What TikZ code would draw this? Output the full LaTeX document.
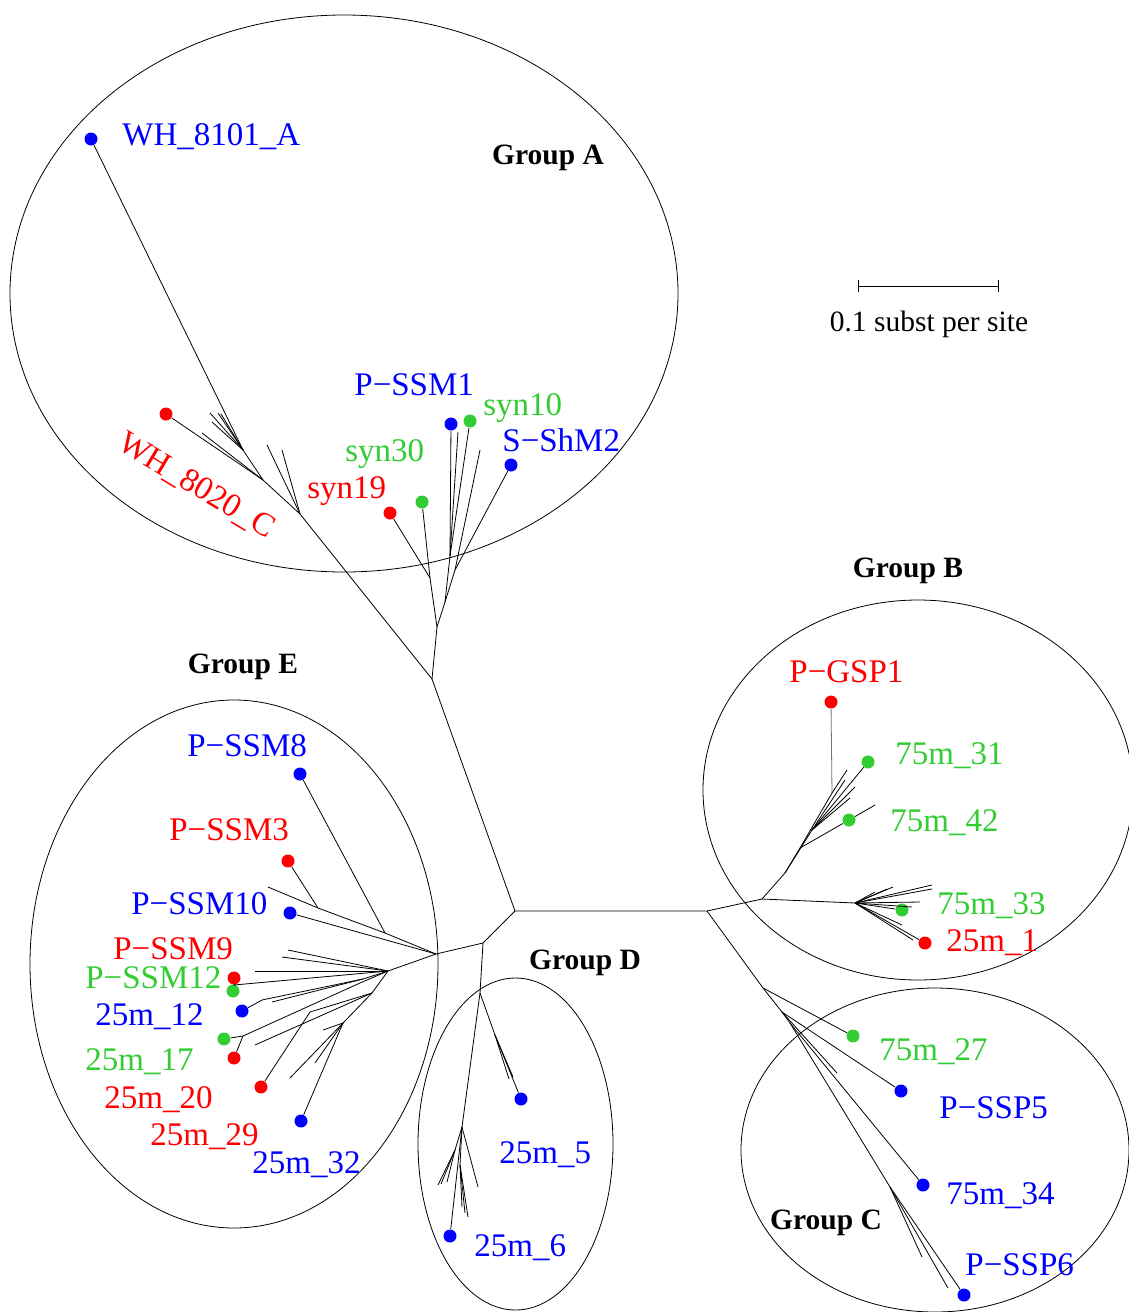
\documentclass[tikz,border=0pt]{standalone}
\usepackage{fontspec}
\setmainfont{Liberation Serif}
\definecolor{leafgreen}{RGB}{50,205,50}
\definecolor{leafblue}{RGB}{0,0,255}
\definecolor{leafred}{RGB}{255,0,0}
\begin{document}
\begin{tikzpicture}[x=1pt,y=-1pt,line width=0.8pt,
  tipdot/.style={circle,fill=#1,draw=none,inner sep=0pt,minimum size=13pt},
  lab/.style={text=#1,font=\fontsize{33}{36}\selectfont,inner sep=0pt,anchor=base west},
  grp/.style={font=\fontsize{29.5}{32}\selectfont\bfseries,inner sep=0pt,anchor=base},
  clade/.style={draw,line width=0.8pt}]
\useasboundingbox (0,0) rectangle (1129,1312);

% ---- clade outlines
\begin{scope}
\clip (0,0) rectangle (1129,1312);
\draw[clade] (344,293.5) ellipse [x radius=334pt, y radius=278.5pt];
\draw[clade] (918,790) ellipse [x radius=215pt, y radius=190pt];
\draw[clade] (935,1150) ellipse [x radius=194pt, y radius=162pt];
\draw[clade] (515.5,1144) ellipse [x radius=97.5pt, y radius=166pt];
\draw[clade] (234,964) ellipse [x radius=204pt, y radius=264pt];
\end{scope}

% ---- internal nodes
\coordinate (r1) at (515,911);
\coordinate (r2) at (707,911);
\coordinate (r3) at (483,943);
\coordinate (a0) at (432,679);
\coordinate (e0) at (436,954);
\coordinate (d0) at (480,993);
% group A
\coordinate (a1) at (437,627);
\coordinate (a2) at (430,578);
\coordinate (a3) at (445,602);
\coordinate (a4) at (450,556);
\coordinate (a7) at (455,570);
\coordinate (w1) at (300,514);
\coordinate (w2) at (263,480);
\coordinate (w3) at (243,450);
% group D
\coordinate (d1) at (462,1127);
\coordinate (d2) at (495,1035);
\coordinate (d3) at (455,1150);
\coordinate (d4) at (460,1165);
% group E
\coordinate (e1) at (385,933);
\coordinate (e2) at (318,908);
\coordinate (e3) at (388,971);
\coordinate (e4) at (234,985);
\coordinate (e5) at (363,979);
\coordinate (e6) at (262,1000);
\coordinate (e7) at (360,983);
\coordinate (e8) at (243,1036);
\coordinate (e9) at (372,993);
\coordinate (e10) at (310,1012);
\coordinate (e11) at (343,1023);
% group B
\coordinate (b0) at (762,899);
\coordinate (b1) at (785,873);
\coordinate (b2) at (855,903);
\coordinate (b3) at (832,793);
\coordinate (b4) at (800,848);
\coordinate (b5) at (812,830);
% group C
\coordinate (c0) at (763,988);
\coordinate (c1) at (782,1012);
\coordinate (c2) at (790,1023);
\coordinate (c3) at (890,1187);

% ---- unlabelled leaf ends
\foreach \n/\px/\py in {
  sa1/458/432, sa2/480/450,
  sw1/202/433, sw2/210/413, sw3/212/422, sw4/218/413, sw5/221/414,
  sw6/267/445, sw7/282/450,
  sd1/513/1077, sd2/509/1079, sd3/478/1187, sd4/438/1185, sd5/441/1184,
  sd6/447/1182, sd7/468/1217, sd8/462/1207, sd9/465/1213,
  se1/268/887, se2/288/950, se3/282/957, se4/255/971, se5/272/1002,
  se6/255/1045, se7/323/1030, se8/315/1063, se9/290/1078,
  sb1/847/770, sb2/875/805, sb3/855/787, sb4/850/798, sb14/845/780,
  sb5/932/885, sb6/932/889, sb7/893/887, sb8/887/889, sb9/920/902,
  sb10/912/907, sb11/902/925, sb12/913/940, sb13/875/892,
  sc1/837/1073, sc2/922/1257, sc3/948/1288}
  {\coordinate (\n) at (\px,\py);}

% ---- labelled leaves
\node[tipdot=leafblue]  (wh8101) at (91,139) {};
\node[tipdot=leafred]   (wh8020) at (166,414) {};
\node[tipdot=leafblue]  (pssm1)  at (451,424) {};
\node[tipdot=leafgreen] (syn10)  at (470,421) {};
\node[tipdot=leafblue]  (sshm2)  at (511,465) {};
\node[tipdot=leafgreen] (syn30)  at (422,502) {};
\node[tipdot=leafred]   (syn19)  at (390,513) {};
\node[tipdot=leafred]   (pgsp1)  at (831,702) {};
\node[tipdot=leafgreen] (m75x31) at (868,762) {};
\node[tipdot=leafgreen] (m75x42) at (849,820) {};
\node[tipdot=leafgreen] (m75x33) at (902,910) {};
\node[tipdot=leafred]   (m25x1)  at (925,943) {};
\node[tipdot=leafblue]  (pssm8)  at (300,774) {};
\node[tipdot=leafred]   (pssm3)  at (288,861) {};
\node[tipdot=leafblue]  (pssm10) at (290,913) {};
\node[tipdot=leafred]   (pssm9)  at (234,978) {};
\node[tipdot=leafgreen] (pssm12) at (233,991) {};
\node[tipdot=leafblue]  (m25x12) at (242,1011) {};
\node[tipdot=leafgreen] (m25x17) at (224,1039) {};
\node[tipdot=leafred]   (m25x20) at (234,1058) {};
\node[tipdot=leafred]   (m25x29) at (261,1087) {};
\node[tipdot=leafblue]  (m25x32) at (301,1121) {};
\node[tipdot=leafblue]  (m25x5)  at (521,1099) {};
\node[tipdot=leafblue]  (m25x6)  at (450,1236) {};
\node[tipdot=leafgreen] (m75x27) at (853,1036) {};
\node[tipdot=leafblue]  (pssp5)  at (901,1091) {};
\node[tipdot=leafblue]  (m75x34) at (923,1185) {};
\node[tipdot=leafblue]  (pssp6)  at (964,1295) {};

% ---- branches
\draw (a0) -- (r1) -- (r2);
\draw (r1) -- (r3) -- (e0);
\draw (r3) -- (d0);
% group A
\draw (a0) -- (a1); \draw (a1) -- (a2); \draw (a1) -- (a3);
\draw (a2) -- (syn19); \draw (a2) -- (syn30);
\draw (a3) -- (a4); \draw (a4) -- (pssm1); \draw (a4) -- (sa1); \draw (a4) -- (syn10);
\draw (a3) -- (a7); \draw (a7) -- (sshm2); \draw (a7) -- (sa2);
\draw (a0) -- (w1) -- (w2) -- (w3) -- (wh8101);
\draw (w2) -- (wh8020); \draw (w2) -- (sw1);
\foreach \s in {sw2,sw3,sw4,sw5} \draw (w3) -- (\s);
\draw (w1) -- (sw6); \draw (w1) -- (sw7);
% group D
\draw (d0) -- (d1); \draw (d0) -- (d2);
\draw (d2) -- (m25x5); \draw (d2) -- (sd1); \draw (d2) -- (sd2);
\draw (d1) -- (m25x6); \draw (d1) -- (sd3);
\draw (d1) -- (d3); \foreach \s in {sd4,sd5,sd6} \draw (d3) -- (\s);
\draw (d1) -- (d4); \foreach \s in {sd7,sd8,sd9} \draw (d4) -- (\s);
% group E
\draw (e0) -- (e1) -- (e2) -- (se1);
\draw (e1) -- (pssm8); \draw (e2) -- (pssm3); \draw (e0) -- (pssm10);
\draw (e0) -- (e3);
\draw (e3) -- (se2); \draw (e3) -- (se3); \draw (e3) -- (se4);
\draw (e3) -- (e4); \draw (e4) -- (pssm9); \draw (e4) -- (pssm12);
\draw (e3) -- (e5); \draw (e5) -- (e6) -- (m25x12); \draw (e5) -- (se5);
\draw (e3) -- (e7) -- (e8) -- (m25x17); \draw (e8) -- (m25x20);
\draw (e3) -- (e9); \draw (e9) -- (se6);
\draw (e9) -- (e10) -- (m25x29);
\draw (e9) -- (e11); \draw (e11) -- (se7); \draw (e11) -- (se8); \draw (e11) -- (se9);
\draw (e11) -- (m25x32);
% group B
\draw (r2) -- (b0); \draw (b0) -- (b1); \draw (b0) -- (b2);
\draw (b1) -- (b4) -- (b3);
\draw[black!55] (b3) -- (pgsp1);
\draw (b3) -- (sb1);
\draw (b4) -- (m75x42) -- (sb2);
\draw (b1) -- (b5); \draw (b5) -- (m75x31); \draw (b5) -- (sb3); \draw (b5) -- (sb4);
\draw (b5) -- (sb14);
\foreach \s in {sb5,sb6,sb7,sb8,sb9,sb10,sb11,sb12,sb13} \draw (b2) -- (\s);
\draw (b2) -- (m75x33); \draw (b2) -- (m25x1);
% group C
\draw (r2) -- (c0); \draw (c0) -- (m75x27); \draw (c0) -- (c1);
\draw (c1) -- (pssp5); \draw (c1) -- (sc1); \draw (c1) -- (c2);
\draw (c2) -- (m75x34); \draw (c2) -- (c3);
\draw (c3) -- (pssp6); \draw (c3) -- (sc2); \draw (c3) -- (sc3);

% ---- leaf labels
\node[lab=leafblue]  (t1)  at (122,145)  {WH\_8101\_A};
\node[lab=leafblue]  (t2)  at (354,395)  {P−SSM1};
\node[lab=leafgreen] (t3)  at (483,415)  {syn10};
\node[lab=leafblue]  (t4)  at (502,451)  {S−ShM2};
\node[lab=leafgreen] (t5)  at (345,461)  {syn30};
\node[lab=leafred]   (t6)  at (307,498)  {syn19};
\node[text=leafred,font=\fontsize{33}{36}\selectfont,inner sep=0pt,rotate=-31] (t7) at (196,486) {WH\_8020\_C};
\node[lab=leafred]   (t8)  at (789,682)  {P−GSP1};
\node[lab=leafgreen] (t9)  at (895,764)  {75m\_31};
\node[lab=leafgreen] (t10) at (890,831)  {75m\_42};
\node[lab=leafgreen] (t11) at (937,914)  {75m\_33};
\node[lab=leafred]   (t12) at (946,951)  {25m\_1};
\node[lab=leafblue]  (t13) at (187,756)  {P−SSM8};
\node[lab=leafred]   (t14) at (169,840)  {P−SSM3};
\node[lab=leafblue]  (t15) at (131,914)  {P−SSM10};
\node[lab=leafred]   (t16) at (113,959)  {P−SSM9};
\node[lab=leafgreen] (t17) at (85,988)   {P−SSM12};
\node[lab=leafblue]  (t18) at (95,1025)  {25m\_12};
\node[lab=leafgreen] (t19) at (85,1070)  {25m\_17};
\node[lab=leafred]   (t20) at (104,1108) {25m\_20};
\node[lab=leafred]   (t21) at (150,1145) {25m\_29};
\node[lab=leafblue]  (t22) at (252,1173) {25m\_32};
\node[lab=leafblue]  (t23) at (499,1163) {25m\_5};
\node[lab=leafblue]  (t24) at (474,1256) {25m\_6};
\node[lab=leafgreen] (t25) at (879,1060) {75m\_27};
\node[lab=leafblue]  (t26) at (939,1118) {P−SSP5};
\node[lab=leafblue]  (t27) at (946,1204) {75m\_34};
\node[lab=leafblue]  (t28) at (965,1275) {P−SSP6};

% ---- group names
\node[grp] (gA) at (548,164)  {Group A};
\node[grp] (gB) at (908,577)  {Group B};
\node[grp] (gE) at (243,673)  {Group E};
\node[grp] (gD) at (585,969)  {Group D};
\node[grp] (gC) at (826,1229) {Group C};

% ---- scale bar
\coordinate (sbL) at (858,286);
\coordinate (sbR) at (998,286);
\draw (sbL) -- (sbR);
\draw ([yshift=6pt]sbL) -- ([yshift=-6pt]sbL);
\draw ([yshift=6pt]sbR) -- ([yshift=-6pt]sbR);
\node[font=\fontsize{29.5}{32}\selectfont,inner sep=0pt,anchor=base] (sbtext) at (929,331) {0.1 subst per site};
\end{tikzpicture}
\end{document}
